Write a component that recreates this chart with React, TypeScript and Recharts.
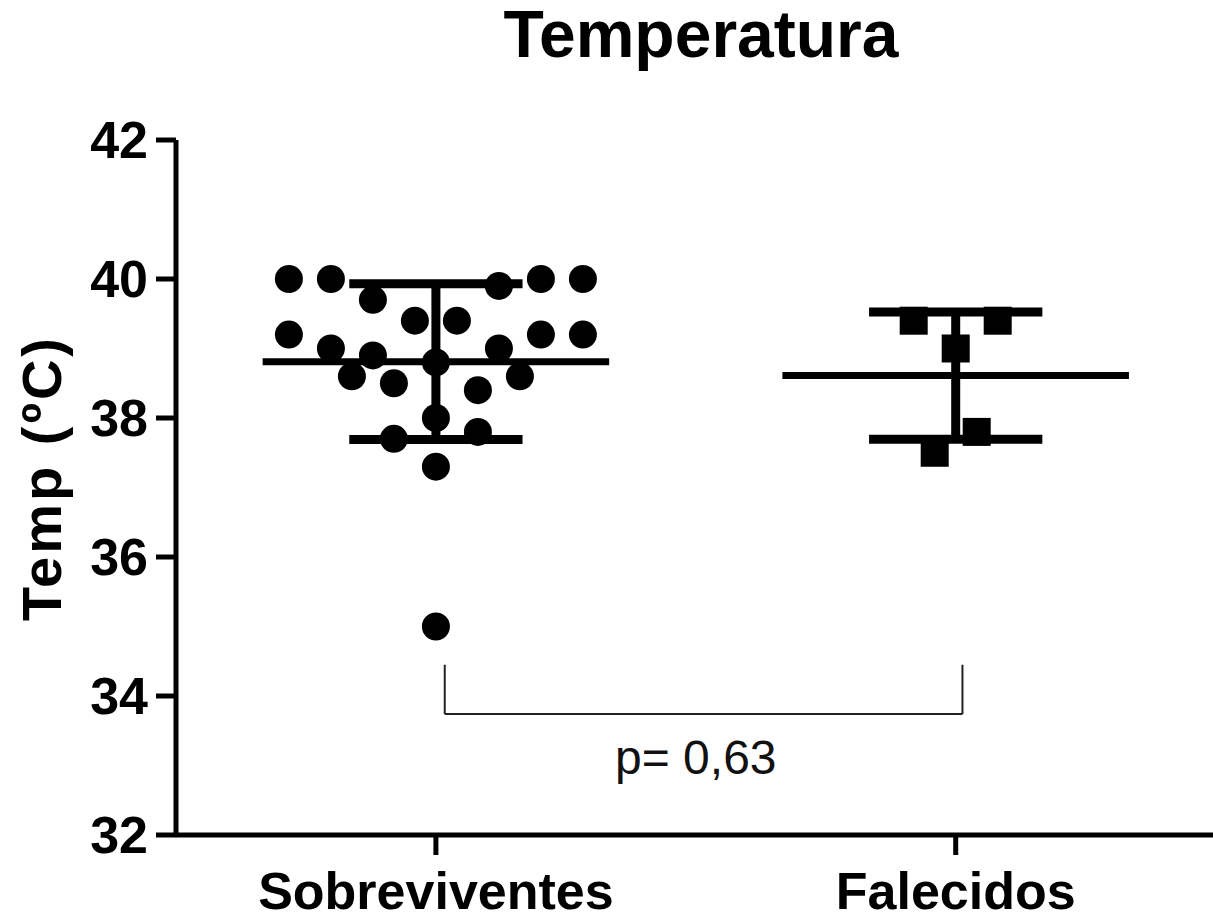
import {
    ScatterChart,
    Scatter,
    XAxis,
    YAxis,
    ReferenceLine,
    ReferenceDot,
} from 'recharts';

// --- Data ---
const categories = ['Sobreviventes', 'Falecidos'];
const yTicks = [32, 34, 36, 38, 40, 42];

const sobreviventesTemp = [40.0, 40.0, 40.0, 40.0, 39.7, 39.9, 39.4, 39.4, 39.2, 39.2, 39.2, 39.0, 39.0, 38.9, 38.8, 38.6, 38.6, 38.5, 38.4, 38.0, 37.7, 37.8, 37.3, 35.0];
const sobreviventesJitter = [-7, -5, 5, 7, -3, 3, -1, 1, -7, 5, 7, -5, 3, -3, 0, -4, 4, -2, 2, 0, -2, 2, 0, 0];

const falecidosTemp = [39.4, 39.4, 39.0, 37.8, 37.5];
const falecidosJitter = [-2, 2, 0, 1, -1];

// mean and SD per group
const groupMean = [38.81, 38.61];
const groupSD = [1.12, 0.915];

const pValue = 'p= 0,63';

// --- Theme ---
const FONT = '"Liberation Sans", Arial, sans-serif';
const JITTER_STEP = 0.0404; // x units per jitter step
const MEAN_HALF = 1 / 3;
const WHISKER_HALF = 1 / 6;

const toPoints = (values: number[], jitter: number[], group: number) =>
    values.map((y, i) => ({ x: group + jitter[i] * JITTER_STEP, y }));

const sobreviventesData = toPoints(sobreviventesTemp, sobreviventesJitter, 1);
const falecidosData = toPoints(falecidosTemp, falecidosJitter, 2);

const Circle = (props: any) => <circle cx={props.cx} cy={props.cy} r={14} fill="#000" />;
const Square = (props: any) => <rect x={props.cx - 14} y={props.cy - 14} width={28} height={28} fill="#000" />;

function YLabel(props: any) {
    const { viewBox } = props;
    const cx = viewBox.x + 61;
    const cy = 478;
    return (
        <text
            x={cx}
            y={cy}
            transform={`rotate(-90 ${cx} ${cy})`}
            textAnchor="middle"
            fontFamily={FONT}
            fontWeight="bold"
            fontSize={56}
            letterSpacing={3}
            fill="#000"
        >
            Temp (ºC)
        </text>
    );
}

export default function App() {
    const tickStyle = { fontSize: 52, fontWeight: 'bold', fill: '#000', fontFamily: FONT };
    const axisStroke = { stroke: '#000', strokeWidth: 5 };

    return (
        <div style={{ position: 'absolute', left: 0, top: 0, width: 1213, height: 917, background: '#fff', overflow: 'hidden' }}>
            <div
                style={{
                    position: 'absolute',
                    top: 1,
                    left: 401,
                    width: 600,
                    textAlign: 'center',
                    fontFamily: FONT,
                    fontWeight: 'bold',
                    fontSize: 66,
                    lineHeight: '66px',
                    color: '#000',
                }}
            >
                Temperatura
            </div>
            <ScatterChart width={1213} height={917} margin={{ top: 140, right: 0, bottom: 0, left: 0 }}>
                <XAxis
                    type="number"
                    dataKey="x"
                    domain={[0.5, 2.495]}
                    ticks={[1, 2]}
                    tickFormatter={(v: number) => categories[v - 1] ?? ''}
                    height={82}
                    tickSize={20}
                    tickMargin={17}
                    axisLine={axisStroke}
                    tickLine={axisStroke}
                    tick={tickStyle}
                    allowDataOverflow
                />
                <YAxis
                    type="number"
                    dataKey="y"
                    domain={[32, 42]}
                    ticks={yTicks}
                    width={176}
                    tickSize={20}
                    tickMargin={8}
                    axisLine={axisStroke}
                    tickLine={axisStroke}
                    tick={tickStyle}
                    label={{ content: YLabel }}
                    allowDataOverflow
                />

                {groupMean.map((m, i) => {
                    const g = i + 1;
                    const sd = groupSD[i];
                    return [
                        <ReferenceLine key={`mean-${g}`} segment={[{ x: g - MEAN_HALF, y: m }, { x: g + MEAN_HALF, y: m }]} stroke="#000" strokeWidth={7} />,
                        <ReferenceLine key={`sd-${g}`} segment={[{ x: g, y: m - sd }, { x: g, y: m + sd }]} stroke="#000" strokeWidth={9} />,
                        <ReferenceLine key={`top-${g}`} segment={[{ x: g - WHISKER_HALF, y: m + sd }, { x: g + WHISKER_HALF, y: m + sd }]} stroke="#000" strokeWidth={9} />,
                        <ReferenceLine key={`bot-${g}`} segment={[{ x: g - WHISKER_HALF, y: m - sd }, { x: g + WHISKER_HALF, y: m - sd }]} stroke="#000" strokeWidth={9} />,
                    ];
                })}

                {/* significance bracket */}
                <ReferenceLine segment={[{ x: 1.017, y: 34.45 }, { x: 1.017, y: 33.74 }]} stroke="#222" strokeWidth={2} />
                <ReferenceLine segment={[{ x: 1.017, y: 33.74 }, { x: 2.013, y: 33.74 }]} stroke="#222" strokeWidth={2} />
                <ReferenceLine segment={[{ x: 2.013, y: 34.45 }, { x: 2.013, y: 33.74 }]} stroke="#222" strokeWidth={2} />
                <ReferenceDot
                    x={1.5}
                    y={33.12}
                    r={0}
                    stroke="none"
                    label={{ value: pValue, position: 'center', fontSize: 48, fill: '#111', fontFamily: FONT }}
                />

                <Scatter data={sobreviventesData} shape={Circle} isAnimationActive={false} />
                <Scatter data={falecidosData} shape={Square} isAnimationActive={false} />
            </ScatterChart>
        </div>
    );
}
